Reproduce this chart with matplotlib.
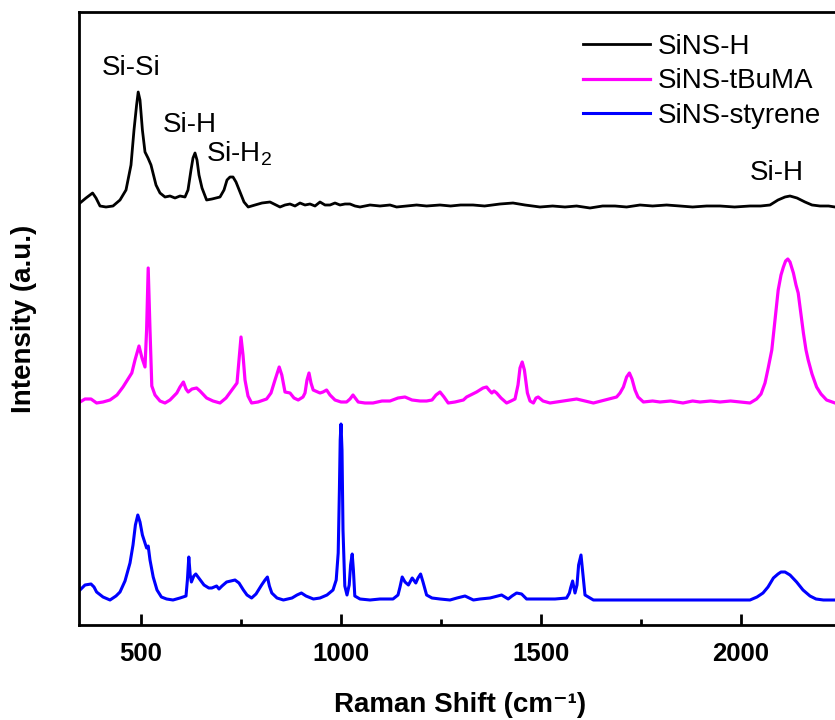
import numpy as np
import matplotlib
matplotlib.use("Agg")
import matplotlib.pyplot as plt

plt.rcParams['font.family'] = ['Liberation Sans', 'DejaVu Sans']
plt.rcParams['mathtext.fontset'] = 'custom'
plt.rcParams['mathtext.rm'] = 'Liberation Sans'
plt.rcParams['mathtext.it'] = 'Liberation Sans:italic'
plt.rcParams['mathtext.bf'] = 'Liberation Sans:bold'

# Raman spectra (shift in cm^-1, intensity in a.u. above each trace's baseline)
shift_h = [348.5, 363.5, 380, 388.5, 398.5, 413.5, 431, 448.5, 463.5, 476, 483.5, 490, 494,
           498.5, 504.5, 511, 518.5, 526, 531, 538.5, 548.5, 561, 573.5, 586, 598.5, 611,
           618.5, 626, 631, 636, 641, 646, 653.5, 665, 678.5, 698.5, 708.5, 716, 723.5, 731,
           738.5, 748.5, 758.5, 769, 786, 803.5, 823.5, 838.5, 848.5, 861, 873.5, 886, 898.5,
           911, 923.5, 936, 948.5, 961, 973.5, 986, 998.5, 1011, 1023.5, 1036, 1048.5, 1073.5,
           1098.5, 1123.5, 1140, 1165, 1190, 1215, 1248.5, 1275, 1300, 1331, 1360, 1398.5,
           1431, 1461, 1498.5, 1530, 1561, 1590, 1623.5, 1655, 1686, 1715, 1748.5, 1780,
           1815, 1848.5, 1880, 1915, 1948.5, 1985, 2023.5, 2050, 2073.5, 2093.5,
           2111, 2123.5, 2141, 2161, 2178.5, 2198.5, 2220, 2236]
int_h = [4, 9, 14, 9, 1, 0, 1, 7, 17, 42, 77, 102, 115,
         107, 77, 55, 49, 42, 34, 22, 14, 10, 11, 9, 11, 10,
         17, 37, 49, 54, 47, 32, 19, 7, 8, 10, 17, 27, 30, 30,
         25, 15, 5, 0, 2, 4, 5, 2, 0, 2, 3, 1, 4,
         2, 3, 1, 5, 2, 2, 4, 2, 3, 3, 1, 0, 2,
         1, 2, 0, 1, 2, 1, 2, 1, 2, 2, 1, 3,
         4, 2, 0, 1, 0, 1, -1, 1, 1, 0, 2, 1,
         2, 1, 0, 1, 1, 0, 1, 1, 2, 7,
         10, 11, 9, 5, 2, 1, 1, 0]

shift_tbuma = [348.5, 361, 376, 390, 406, 423.5, 441, 456, 468.5, 478, 486, 496, 503.5, 511,
               515, 519, 523.5, 528, 536, 548.5, 561, 573.5, 590.5, 598.5, 607, 613.5, 619,
               628.5, 640, 648.5, 665, 681, 698.5, 713.5, 732, 741, 746, 751, 756, 761, 768.5,
               777.5, 793.5, 815, 826, 836, 846.5, 853, 861, 873.5, 883.5, 894, 906, 911, 916,
               921, 926, 931.5, 948.5, 956, 965, 973.5, 986, 1001, 1015, 1023.5, 1031, 1038.5,
               1044, 1061, 1081, 1103.5, 1123.5, 1143.5, 1161, 1178.5, 1198.5, 1215, 1228.5,
               1238.5, 1248.5, 1258.5, 1269, 1286, 1307, 1315, 1340, 1356, 1365, 1371, 1378,
               1383.5, 1390, 1401, 1415, 1426, 1436, 1443.5, 1448.5, 1454, 1459.5, 1467,
               1473.5, 1482, 1488.5, 1494, 1506, 1523.5, 1556, 1590, 1611, 1632, 1661, 1681,
               1690, 1698.5, 1707, 1715, 1722, 1728.5, 1736, 1743.5, 1757, 1780, 1798.5, 1825,
               1856, 1880, 1898.5, 1925, 1948.5, 1975, 1998.5, 2023.5, 2040, 2051, 2061, 2069,
               2078, 2086, 2094, 2101, 2107, 2112.5, 2118, 2123.5, 2132, 2138.5, 2144, 2149.5,
               2157, 2163.5, 2169, 2178.5, 2190, 2201, 2215, 2236]
int_tbuma = [0, 3, 3, -1, 0, 2, 7, 15, 23, 29, 42, 56, 44, 35,
             72, 134, 72, 16, 7, 1, -1, 2, 9, 15, 20, 13, 10,
             13, 14, 11, 4, 1, -1, 4, 14, 19, 42, 65, 47, 22, 6,
             -1, 0, 3, 9, 22, 35, 27, 10, 9, 4, 2, 5, 9, 22,
             29, 19, 12, 9, 10, 12, 7, 2, 0, 0, 3, 7, 3,
             0, -1, -1, 1, 1, 4, 5, 2, 1, 1, 2,
             7, 10, 5, -1, 0, 2, 5, 10, 14, 15, 12, 9,
             11, 9, 4, -1, 1, 3, 17, 34, 40, 32, 9,
             1, -1, 4, 5, 1, -1, 1, 3, 1, -1, 2, 4,
             5, 9, 15, 25, 29, 23, 12, 5, 0, 1, 0, 1,
             -1, 1, 0, 1, 0, 1, 0, -1, 3, 8, 19, 34,
             52, 82, 112, 127, 135, 141, 143, 140, 129, 117, 109, 92,
             69, 52, 42, 28, 15, 8, 2, -1]

shift_sty = [348.5, 361, 376, 383.5, 390, 406, 423.5, 438.5, 448.5, 461, 473.5, 481, 487, 493,
             498.5, 504.5, 511, 515, 519, 523.5, 531.5, 541, 552, 565, 581, 598.5, 613.5, 617,
             620.5, 624, 627, 633, 638, 645.5, 658.5, 670.5, 678, 684, 690, 696, 703.5, 715,
             726, 736, 746, 757, 766, 777.5, 788.5, 802.5, 811, 817, 822, 828, 841, 857,
             878.5, 891, 902, 913.5, 932, 948.5, 966, 981, 989, 994, 997, 999, 1001, 1003.5,
             1006, 1010.5, 1016, 1021.5, 1025, 1029, 1032, 1035.5, 1048.5, 1073.5, 1098.5,
             1131, 1143.5, 1148.5, 1154, 1161, 1169.5, 1173.5, 1179, 1188, 1193.5, 1200,
             1206, 1215, 1228.5, 1248.5, 1273.5, 1291, 1311, 1332, 1348.5, 1373.5, 1402.5,
             1419, 1428.5, 1440, 1452.5, 1465, 1498.5, 1536, 1565, 1572, 1575, 1580, 1583.5,
             1586, 1591, 1595, 1601, 1606, 1611, 1632, 1698.5, 1773.5, 1898.5, 1998.5,
             2023.5, 2041, 2056, 2068.5, 2082, 2093.5, 2101, 2111, 2123.5, 2140, 2156,
             2173.5, 2188.5, 2207, 2236]
int_sty = [10, 15, 16, 13, 8, 3, 0, 4, 8, 19, 37, 55, 75, 85,
           78, 65, 57, 52, 54, 40, 23, 10, 3, 1, 0, 2, 4, 20,
           43, 25, 18, 24, 26, 22, 15, 12, 12, 13, 14, 11, 14, 18,
           19, 20, 17, 10, 5, 2, 6, 15, 20, 23, 14, 7, 2, 0,
           2, 5, 7, 4, 1, 2, 5, 10, 20, 47, 110, 160, 176, 150,
           70, 14, 5, 15, 35, 46, 30, 4, 1, 0, 1,
           1, 5, 13, 23, 18, 15, 18, 22, 17, 22, 26,
           18, 5, 2, 1, 0, 2, 4, 0, 1, 2, 5,
           1, 4, 7, 6, 1, 1, 1, 2, 7, 12, 19, 12,
           7, 15, 35, 45, 25, 5, 0, 0, 0, 0, 0,
           0, 3, 7, 13, 22, 26, 28, 28, 25, 18, 10,
           4, 1, 0, 0]

labels = ['SiNS-H', 'SiNS-tBuMA', 'SiNS-styrene']
colors = ['#000000', '#FF00FF', '#0000FF']
line_widths = [2.0, 2.3, 2.2]
offsets = [418, 223, 25]
x_ticks = [500, 1000, 1500, 2000]

fig = plt.figure(figsize=(8.35, 7.2), dpi=100)
ax = fig.add_axes([79 / 835, 95 / 720, 761.6 / 835, 613 / 720])

series = [(shift_h, int_h), (shift_tbuma, int_tbuma), (shift_sty, int_sty)]
for (xs, ys), lab, col, lw, off in zip(series, labels, colors, line_widths, offsets):
    ax.plot(xs, np.asarray(ys) + off, color=col, lw=lw, label=lab,
            solid_joinstyle='round')

ax.set_xlim(346, 2250)
ax.set_ylim(0, 613)
ax.set_xticks(x_ticks)
ax.set_xticks([750, 1250, 1750, 2250], minor=True)
ax.set_yticks([])
for side in ['left', 'bottom', 'top', 'right']:
    ax.spines[side].set_linewidth(2.0)
ax.tick_params(axis='x', which='major', direction='in', length=8, width=2.0,
               pad=12, labelsize=18.5)
ax.tick_params(axis='x', which='minor', direction='in', length=4, width=2.0)
for lbl in ax.get_xticklabels():
    lbl.set_fontweight('bold')

ax.set_xlabel('Raman Shift (cm\u207b\u00b9)', fontsize=20, fontweight='bold', labelpad=19)
ax.set_ylabel('Intensity (a.u.)', fontsize=20, fontweight='bold')
ax.yaxis.set_label_coords(-0.055, 0.5)

# Peak assignments
ax.text(476, 550, 'Si-Si', fontsize=20, ha='center', va='baseline')
ax.text(622, 493, 'Si-H', fontsize=20, ha='center', va='baseline')
ax.text(663, 463, 'Si-H$_2$', fontsize=20, ha='left', va='baseline')
ax.text(2090, 445, 'Si-H', fontsize=20, ha='center', va='baseline')

leg = ax.legend(loc='upper left', bbox_to_anchor=(583 / 835, 1 - 34 / 720),
                bbox_transform=fig.transFigure, frameon=False, fontsize=20,
                handlelength=2.4, handletextpad=0.3, labelspacing=0.3,
                borderpad=0, borderaxespad=0)

fig.savefig('out.png', dpi=100)
